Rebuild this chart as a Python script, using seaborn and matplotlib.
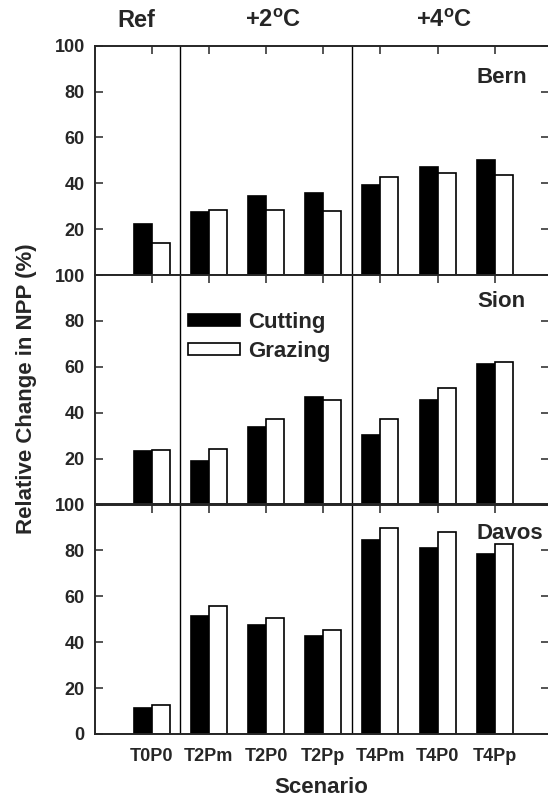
import pandas as pd
import numpy as np
import seaborn as sns
import matplotlib.pyplot as plt

# scenarios along the x axis
scenarios = ['T0P0', 'T2Pm', 'T2P0', 'T2Pp', 'T4Pm', 'T4P0', 'T4Pp']
treatments = ['Cutting', 'Grazing']
sites = ['Bern', 'Sion', 'Davos']

# relative change in NPP (%)
bern_cut = [22.3, 27.5, 34.5, 36.0, 39.3, 47.3, 50.2]
bern_graz = [14.0, 28.4, 28.5, 28.0, 42.9, 44.5, 43.5]
sion_cut = [23.2, 19.1, 33.6, 47.0, 30.3, 45.4, 61.2]
sion_graz = [23.8, 24.3, 37.2, 45.7, 37.2, 50.6, 62.3]
davos_cut = [11.5, 51.3, 47.5, 42.7, 84.4, 81.1, 78.6]
davos_graz = [12.4, 55.7, 50.6, 45.5, 89.8, 87.8, 82.8]

# warming groups shown above the top panel
groups = ['Ref', '+2$^{\\mathregular{o}}$C', '+4$^{\\mathregular{o}}$C']

site_values = {
    'Bern': (bern_cut, bern_graz),
    'Sion': (sion_cut, sion_graz),
    'Davos': (davos_cut, davos_graz),
}
# vertical spot of the site name inside each panel (axes fraction)
site_label_y = {'Bern': 0.862, 'Sion': 0.885, 'Davos': 0.875}

sns.set_style('ticks')
plt.rcParams['font.family'] = ['Liberation Sans', 'DejaVu Sans']
plt.rcParams['font.weight'] = 'bold'
plt.rcParams['mathtext.default'] = 'regular'

fig = plt.figure(figsize=(5.48, 7.98), dpi=100)

left = 94.5 / 548
width = (549 - 94.5) / 548
panel_h = 229.4 / 798
top = 1 - 45.7 / 798

axes = []
for i, site in enumerate(sites):
    ax = fig.add_axes([left, top - (i + 1) * panel_h, width, panel_h])
    cut, graz = site_values[site]
    df = pd.DataFrame({
        'scenario': scenarios * 2,
        'treatment': ['Cutting'] * len(scenarios) + ['Grazing'] * len(scenarios),
        'npp': cut + graz,
    })
    sns.barplot(data=df, x='scenario', y='npp', hue='treatment',
                order=scenarios, hue_order=treatments,
                palette={'Cutting': 'black', 'Grazing': 'white'},
                edgecolor='black', linewidth=1.2, width=0.63, gap=0,
                saturation=1, errorbar=None, legend=(site == 'Sion'), ax=ax)

    ax.set_xlim(-1, 6.95)
    ax.set_ylim(0, 100)
    if site == 'Davos':
        ax.set_yticks([0, 20, 40, 60, 80, 100])
    else:
        ax.set_yticks([20, 40, 60, 80, 100])

    # group separators
    ax.axvline(0.5, color='black', lw=1.0)
    ax.axvline(3.5, color='black', lw=1.0)

    for sp in ['left', 'top', 'bottom']:
        ax.spines[sp].set_linewidth(1.4)
        ax.spines[sp].set_visible(True)
    ax.spines['right'].set_visible(False)

    ax.tick_params(axis='y', direction='in', left=True, right=True,
                   length=5.8, width=1.1, pad=7, labelsize=13)
    ax.tick_params(axis='x', direction='in', top=True, bottom=False,
                   length=5.8, width=1.1, pad=10, labelsize=13)
    if site != 'Davos':
        ax.tick_params(axis='x', labelbottom=False)

    ax.set_xlabel('')
    ax.set_ylabel('')

    # site name in the upper right
    ax.text(5.69, site_label_y[site], site, transform=ax.get_xaxis_transform(),
            ha='left', va='center', fontsize=16, fontweight='bold')
    axes.append(ax)

# legend in the Sion panel
leg = axes[1].get_legend()
handles = leg.legend_handles
labels = [t.get_text() for t in leg.get_texts()]
axes[1].legend(handles, labels, loc='upper left', bbox_to_anchor=(0.206, 0.84),
               frameon=False, fontsize=16, handlelength=2.34, handleheight=0.45,
               handletextpad=0.36, labelspacing=0.35, borderpad=0, borderaxespad=0)

# group labels above the top panel
for x, g in zip([-0.27, 2.12, 5.11], groups):
    axes[0].text(x, 1.112, g, transform=axes[0].get_xaxis_transform(),
                 ha='center', va='center', fontsize=17, fontweight='bold')

axes[2].set_xlabel('Scenario', fontsize=16, fontweight='bold', labelpad=9)
fig.text(27 / 548, 1 - 389 / 798, 'Relative Change in NPP (%)', rotation=90,
         ha='center', va='center', fontsize=16, fontweight='bold')

fig.savefig('out.png', dpi=100)
